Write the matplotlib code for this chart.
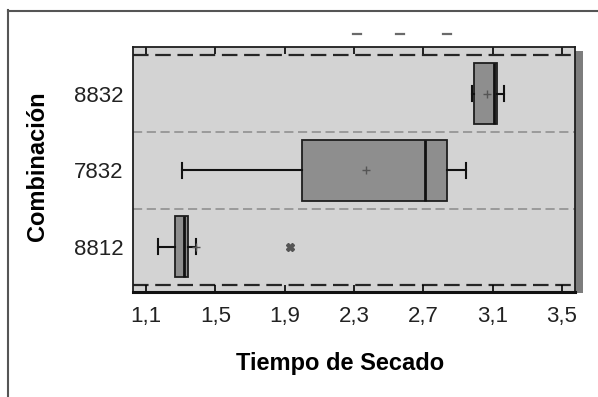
import matplotlib
matplotlib.use("Agg")
import matplotlib.pyplot as plt
from matplotlib.lines import Line2D
from matplotlib.patches import Rectangle

plt.rcParams['font.family'] = ['Liberation Sans', 'DejaVu Sans']

# drying time per combination (bottom to top)
combos = ['8812', '7832', '8832']
q1 = [1.265, 2.00, 2.995]
medians = [1.32, 2.71, 3.105]
q3 = [1.34, 2.835, 3.125]
whis_lo = [1.17, 1.305, 2.98]
whis_hi = [1.39, 2.945, 3.165]
means = [1.39, 2.37, 3.07]
outliers = [[1.93], [], []]

xticks = [1.1, 1.5, 1.9, 2.3, 2.7, 3.1, 3.5]
xtick_labels = ['1,1', '1,5', '1,9', '2,3', '2,7', '3,1', '3,5']

stats = []
for i, name in enumerate(combos):
    stats.append({'label': name, 'q1': q1[i], 'med': medians[i], 'q3': q3[i],
                  'whislo': whis_lo[i], 'whishi': whis_hi[i],
                  'mean': means[i], 'fliers': outliers[i]})

W, H = 598, 397
fig = plt.figure(figsize=(W / 100, H / 100), dpi=100)
ax = fig.add_axes([133 / W, 1 - 292 / H, 442 / W, 245 / H])
ax.set_facecolor('#d3d3d3')

ax.bxp(stats, positions=range(len(combos)), vert=False, widths=0.8,
       patch_artist=True, showmeans=True, capwidths=0.2,
       boxprops=dict(facecolor='#8e8e8e', edgecolor='#1e1e1e', linewidth=1.3),
       medianprops=dict(color='#111111', linewidth=2),
       whiskerprops=dict(color='#111111', linewidth=1.5),
       capprops=dict(color='#111111', linewidth=1.5),
       meanprops=dict(marker='+', markeredgecolor='#555555', markersize=6,
                      markeredgewidth=1),
       flierprops=dict(marker='X', markerfacecolor='#555555',
                       markeredgecolor='#555555', markersize=6))

# separators between groups
for y in [0.5, 1.5]:
    ax.axhline(y, color='#8a8a8a', lw=1.1, dashes=(6, 3), zorder=0.5)
for y in [-0.5, len(combos) - 0.5]:
    ax.axhline(y, color='#262626', lw=1.6, dashes=(7, 3), zorder=0.5)

ax.set_xlim(1.025, 3.575)
ax.set_ylim(-0.59, 2.61)
ax.set_xticks(xticks)
ax.set_xticklabels(xtick_labels)
ax.set_yticks(range(len(combos)))
ax.set_yticklabels(combos)
ax.tick_params(axis='x', direction='in', length=5, width=1.2, top=True,
               pad=10, labelsize=16, labelcolor='#222222')
ax.tick_params(axis='y', length=0, pad=7, labelsize=16, labelcolor='#222222')

for side in ['left', 'top', 'right']:
    ax.spines[side].set_linewidth(1.3)
    ax.spines[side].set_color('#1e1e1e')
ax.spines['bottom'].set_linewidth(2.2)
ax.spines['bottom'].set_color('#111111')

# shaded edge on the right of the plot frame
ax.add_patch(Rectangle((1.0, -0.005), 8 / 442, 0.99, transform=ax.transAxes,
                       facecolor='#7d7d7d', edgecolor='none', clip_on=False,
                       zorder=0.2))

ax.set_xlabel('Tiempo de Secado', fontsize=17, fontweight='bold')
ax.set_ylabel('Combinación', fontsize=17, fontweight='bold')
ax.xaxis.set_label_coords(0.468, -0.245)
ax.yaxis.set_label_coords(-0.19, 0.514)

# clipped heading fragments above the plot
for xp in [357, 400, 447]:
    fig.add_artist(Line2D([(xp - 4) / W, (xp + 4) / W], [1 - 34 / H, 1 - 34 / H],
                          color='#6a6a6a', lw=1.6))

# outer frame
fig.add_artist(Line2D([7.5 / W, 7.5 / W], [0, 1 - 10 / H], color='#555555', lw=1.5))
fig.add_artist(Line2D([7.5 / W, 1], [1 - 10.5 / H, 1 - 10.5 / H], color='#555555', lw=1.5))

fig.savefig('out.png', dpi=100)
